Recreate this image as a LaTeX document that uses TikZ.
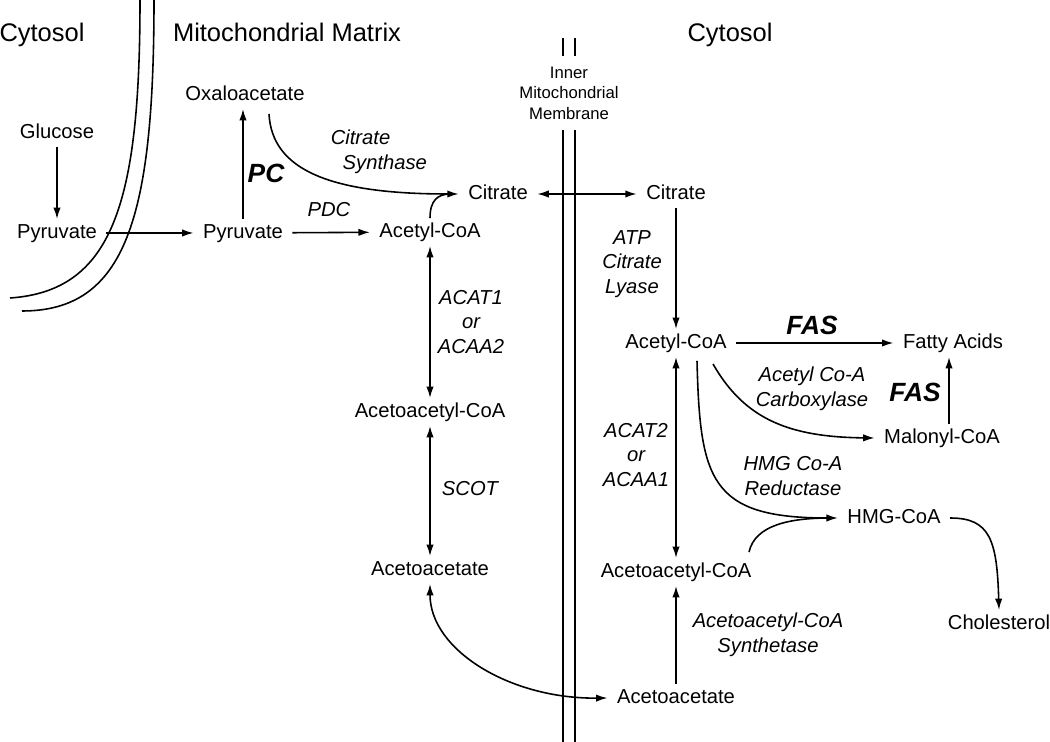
\documentclass[tikz,border=0pt]{standalone}
\usepackage{fontspec}
\setmainfont{Liberation Sans}
\usetikzlibrary{arrows.meta,calc}
\begin{document}
\begin{tikzpicture}[x=0.02cm,y=-0.02cm,
    >={Latex[length=6.5pt,width=4.2pt]}, line width=0.9pt,
    met/.style={font=\fontsize{11.5}{14}\selectfont, inner xsep=5pt, inner ysep=2pt, text height=8.5pt, text depth=2.5pt},
    enz/.style={font=\fontsize{11.5}{14}\selectfont\itshape, align=center, inner sep=0pt},
    enzbig/.style={font=\fontsize{15}{18}\selectfont\bfseries\itshape, inner sep=0pt},
    region/.style={font=\fontsize{14.5}{17}\selectfont, inner sep=0pt, anchor=base}]
    \useasboundingbox (0,0) rectangle (1050,742);
    % compartments
    \node[region] (cytL) at (42,42) {Cytosol};
    \node[region] (matrix) at (287,42) {Mitochondrial Matrix};
    \node[region] (cytR) at (730,42) {Cytosol};
    % outer and inner membrane
    \draw (140,0) .. controls (140,205) and (112,291) .. (10,298);
    \draw (154,0) .. controls (154,220) and (125,311) .. (22,311);
    \draw (563,38) -- (563,56) (575,38) -- (575,56);
    \node[font=\fontsize{9.5}{11.7}\selectfont, align=center] (imm) at (569,93) {Inner\\Mitochondrial\\Membrane};
    \draw (563,130) -- (563,742) (575,130) -- (575,742);
    % metabolites
    \node[met] (glu) at (57,133) {Glucose};
    \node[met] (pyrL) at (57,233) {Pyruvate};
    \node[met] (pyrM) at (243,233) {Pyruvate};
    \node[met] (oxa) at (245,95) {Oxaloacetate};
    \node[met] (citM) at (498,194) {Citrate};
    \node[met] (accM) at (430,232) {Acetyl-CoA};
    \node[met] (aacM) at (430,412) {Acetoacetyl-CoA};
    \node[met] (aaM) at (430,570) {Acetoacetate};
    \node[met] (citC) at (676,194) {Citrate};
    \node[met] (accC) at (676,343) {Acetyl-CoA};
    \node[met] (fat) at (953,343) {Fatty Acids};
    \node[met] (mal) at (942,438) {Malonyl-CoA};
    \node[met] (hmg) at (894,518) {HMG-CoA};
    \node[met] (chol) at (999,624) {Cholesterol};
    \node[met] (aacC) at (676,572) {Acetoacetyl-CoA};
    \node[met] (aaC) at (676,698) {Acetoacetate};
    % enzymes
    \node[enzbig] (pc) at (266,173) {PC};
    \node[enz] (pdc) at (329,210) {PDC};
    \node[enz, anchor=west, align=left] (cs) at (330,152) {Citrate\\\hspace*{6.8pt}Synthase};
    \node[enz] (acat1) at (471,322) {ACAT1\\or\\ACAA2};
    \node[enz] (scot) at (470,489) {SCOT};
    \node[enz] (acl) at (632,264) {ATP\\Citrate\\Lyase};
    \node[enzbig] (fas1) at (812,325) {FAS};
    \node[enzbig] (fas2) at (915,392) {FAS};
    \node[enz] (acc) at (812,389) {Acetyl Co-A\\Carboxylase};
    \node[enz] (hmgr) at (793,476) {HMG Co-A\\Reductase};
    \node[enz] (acat2) at (636,455) {ACAT2\\or\\ACAA1};
    \node[enz] (aacs) at (768,635) {Acetoacetyl-CoA\\Synthetase};
    % reactions
    \draw[->] (glu) -- (pyrL);
    \draw[->] (pyrL) -- (pyrM);
    \draw[->] (pyrM) -- (pyrM |- oxa.south);
    \draw[->] (pyrM) -- (accM);
    \draw[->] ($(oxa.south)+(24,5)$) .. controls (272,170) and (330,194) .. (citM.west);
    \draw (accM.north) .. controls (430,200) and (438,194) .. ($(citM.west)+(-8,0)$);
    \draw[<->] (citM) -- (citC);
    \draw[->] (citC) -- (accC);
    \draw[<->] (accM) -- (aacM);
    \draw[<->] (aacM) -- (aaM);
    \draw[<->] (aaM.south) .. controls (430,650) and (510,699) .. (aaC.west);
    \draw[->] (aaC) -- (aacC);
    \draw[<->] (accC) -- (aacC);
    \draw[->] (accC) -- (fat);
    \draw[->] ($(mal.north)+(7,0)$) -- ($(fat.south)+(-4,0)$);
    \draw[->] ($(accC.south)+(37,7)$) .. controls (745,420) and (790,437) .. (mal.west);
    \draw[->] ($(accC.south)+(21,4)$) .. controls (700,480) and (710,518) .. (hmg.west);
    \draw ($(aacC.north)+(73,-6)$) .. controls (755,525) and (790,518) .. ($(hmg.west)+(-8,0)$);
    \draw[->] (hmg.east) .. controls (990,518) and (997,540) .. (chol.north);
\end{tikzpicture}
\end{document}
